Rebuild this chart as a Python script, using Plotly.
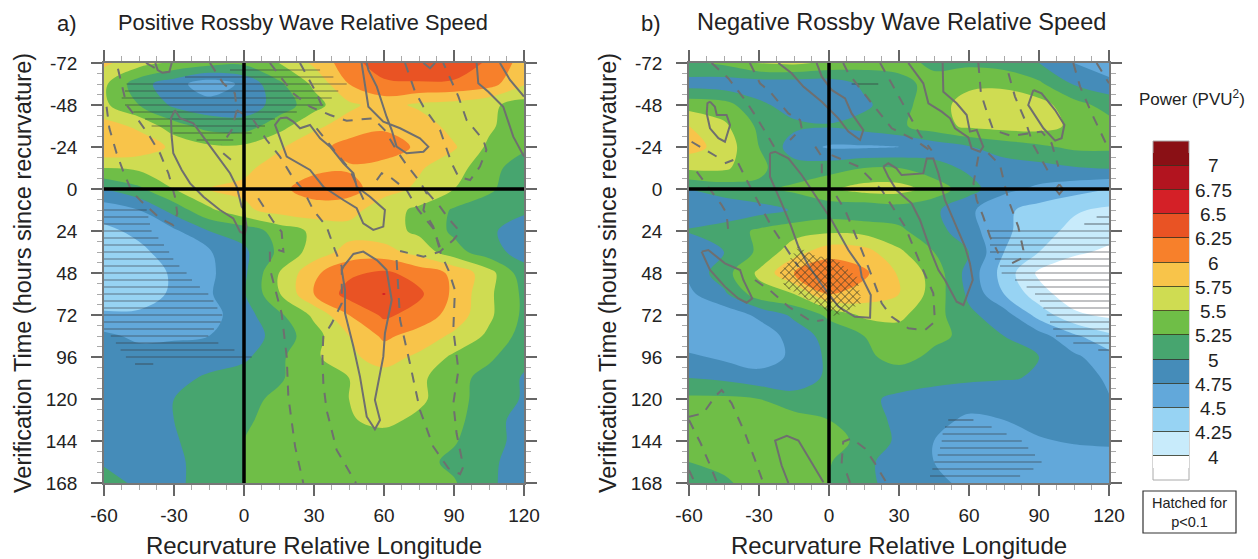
import numpy as np
import plotly.graph_objects as go

W, H = 1258, 559
lon = [-60, -45, -30, -15, 0, 15, 30, 45, 60, 75, 90, 105, 120]
hours = [-72, -60, -48, -36, -24, -12, 0, 12, 24, 36, 48, 60, 72, 84, 96, 108, 120, 132, 144, 156, 168]
levels = [4, 4.25, 4.5, 4.75, 5, 5.25, 5.5, 5.75, 6, 6.25, 6.5, 6.75, 7]
level_labels = ["4", "4.25", "4.5", "4.75", "5", "5.25", "5.5", "5.75", "6", "6.25", "6.5", "6.75", "7"]
band_colors = ["#ffffff", "#c8ebfb", "#97d3f3", "#62a8da", "#458cb9", "#47a56f", "#6fbe47",
               "#cfdc52", "#f8c44a", "#f7802b", "#e95324", "#d42027", "#b2141f", "#8a1015"]
x_ticks = [-60, -30, 0, 30, 60, 90, 120]
y_ticks = [-72, -48, -24, 0, 24, 48, 72, 96, 120, 144, 168]

power_a = [
 [5.8, 5.6, 5.45, 5.35, 5.3, 5.5, 5.8, 6.15, 6.4, 6.45, 6.45, 6.2, 5.9],
 [5.55, 5.1, 4.85, 4.6, 4.8, 5.2, 5.55, 6.0, 6.2, 6.22, 6.2, 6.1, 5.77],
 [5.55, 5.25, 4.95, 4.85, 4.85, 5.1, 5.4, 5.7, 5.85, 5.7, 5.65, 5.55, 5.4],
 [5.85, 5.7, 5.35, 5.15, 5.12, 5.4, 5.7, 5.85, 5.95, 5.9, 5.65, 5.55, 5.3],
 [6.0, 5.9, 5.7, 5.55, 5.55, 5.72, 5.9, 6.1, 6.15, 5.95, 5.78, 5.45, 5.3],
 [5.5, 5.55, 5.6, 5.6, 5.7, 5.85, 5.95, 5.97, 5.9, 5.78, 5.6, 5.35, 5.1],
 [5.0, 5.2, 5.5, 5.75, 5.8, 5.95, 6.1, 6.1, 5.85, 5.7, 5.5, 5.3, 5.05],
 [4.6, 4.75, 5.1, 5.45, 5.7, 5.85, 5.9, 5.85, 5.6, 5.45, 5.22, 5.1, 5.05],
 [4.45, 4.55, 4.7, 5.0, 5.1, 5.35, 5.55, 5.65, 5.6, 5.45, 5.2, 5.05, 4.85],
 [4.3, 4.45, 4.6, 4.72, 4.95, 5.3, 5.6, 5.85, 5.85, 5.65, 5.35, 5.1, 4.9],
 [4.3, 4.3, 4.55, 4.7, 4.95, 5.5, 5.95, 6.2, 6.3, 6.15, 5.95, 5.6, 5.1],
 [4.3, 4.35, 4.55, 4.72, 4.98, 5.48, 6.0, 6.35, 6.51, 6.3, 5.95, 5.55, 5.2],
 [4.55, 4.55, 4.55, 4.65, 4.9, 5.2, 5.55, 6.0, 6.3, 6.15, 5.9, 5.55, 5.2],
 [4.8, 4.7, 4.72, 4.75, 4.85, 5.1, 5.4, 5.75, 6.05, 5.9, 5.7, 5.45, 5.15],
 [4.85, 4.85, 4.85, 4.85, 4.95, 5.2, 5.45, 5.7, 5.85, 5.7, 5.45, 5.3, 5.05],
 [4.85, 4.85, 4.9, 5.05, 5.12, 5.22, 5.4, 5.5, 5.65, 5.55, 5.35, 5.15, 4.98],
 [4.85, 4.85, 5.0, 5.12, 5.18, 5.3, 5.4, 5.5, 5.62, 5.55, 5.35, 5.12, 4.98],
 [4.85, 4.85, 5.0, 5.1, 5.22, 5.32, 5.4, 5.48, 5.56, 5.45, 5.32, 5.1, 4.9],
 [4.9, 4.85, 4.98, 5.1, 5.25, 5.35, 5.4, 5.42, 5.4, 5.35, 5.27, 5.1, 4.9],
 [4.97, 4.88, 4.95, 5.1, 5.25, 5.33, 5.38, 5.38, 5.38, 5.32, 5.2, 5.05, 4.88],
 [5.1, 4.95, 4.95, 5.1, 5.25, 5.32, 5.35, 5.37, 5.37, 5.35, 5.27, 5.05, 4.85],
]
power_b = [
 [5.2, 5.3, 5.52, 5.55, 5.45, 5.35, 5.3, 5.22, 5.2, 5.15, 5.0, 4.75, 4.55],
 [4.9, 4.85, 4.85, 4.85, 4.85, 5.05, 5.2, 5.3, 5.45, 5.45, 5.3, 4.98, 4.85],
 [5.4, 5.35, 5.05, 4.9, 4.85, 4.95, 5.15, 5.4, 5.6, 5.65, 5.6, 5.35, 5.15],
 [5.75, 5.55, 5.2, 5.05, 5.02, 5.1, 5.2, 5.4, 5.55, 5.6, 5.6, 5.45, 5.35],
 [5.85, 5.65, 5.25, 4.88, 4.72, 4.72, 4.75, 4.85, 4.98, 5.1, 5.2, 5.3, 5.3],
 [5.55, 5.55, 5.3, 5.1, 5.15, 5.25, 5.25, 5.1, 4.95, 4.9, 4.92, 4.98, 5.02],
 [5.0, 5.1, 5.2, 5.3, 5.45, 5.6, 5.6, 5.4, 5.1, 4.82, 4.7, 4.6, 4.5],
 [4.85, 4.85, 4.9, 5.02, 5.1, 5.05, 5.12, 5.05, 4.8, 4.55, 4.4, 4.28, 4.2],
 [5.02, 5.1, 5.3, 5.4, 5.45, 5.42, 5.3, 5.1, 4.85, 4.55, 4.35, 4.18, 4.1],
 [4.8, 5.0, 5.3, 5.65, 5.9, 5.85, 5.55, 5.25, 5.0, 4.5, 4.25, 4.05, 3.95],
 [4.8, 5.15, 5.55, 6.0, 6.2, 6.05, 5.72, 5.4, 4.9, 4.4, 3.95, 3.8, 3.8],
 [4.7, 4.95, 5.4, 5.5, 6.0, 5.9, 5.75, 5.4, 4.95, 4.5, 4.1, 3.85, 3.85],
 [4.55, 4.6, 4.8, 5.05, 5.3, 5.55, 5.55, 5.35, 5.05, 4.87, 4.4, 4.05, 3.95],
 [4.55, 4.55, 4.6, 4.85, 5.1, 5.25, 5.4, 5.3, 5.2, 5.0, 4.85, 4.55, 4.3],
 [4.8, 4.7, 4.62, 4.8, 5.05, 5.2, 5.33, 5.2, 5.1, 5.05, 5.0, 4.8, 4.6],
 [5.0, 4.95, 4.85, 4.85, 5.05, 5.12, 5.12, 5.1, 5.05, 5.02, 4.98, 4.85, 4.72],
 [5.3, 5.3, 5.25, 5.1, 5.1, 5.05, 4.95, 4.85, 4.82, 4.82, 4.82, 4.82, 4.76],
 [5.4, 5.35, 5.4, 5.35, 5.25, 5.1, 4.95, 4.8, 4.72, 4.75, 4.85, 4.85, 4.85],
 [5.4, 5.4, 5.42, 5.4, 5.35, 5.18, 4.95, 4.75, 4.65, 4.6, 4.72, 4.78, 4.8],
 [5.25, 5.3, 5.35, 5.35, 5.27, 5.05, 4.9, 4.75, 4.6, 4.55, 4.55, 4.58, 4.62],
 [5.1, 5.22, 5.33, 5.35, 5.25, 5.05, 4.92, 4.8, 4.7, 4.6, 4.58, 4.58, 4.6],
]

solid_a = [
 ([-38, -37, -35, -32, -31], [-72, -68, -66.5, -67, -72]),
 ([-29.6, -31.3, -31, -30.3, -26.7, -23.1, -17.4, -10.3, -4.6, -1.7, 0.4, 1.1, 0, -1, -3.1, -6, -11.7, -17.4, -21.7, -27.4, -29.6],
  [-45.1, -40.4, -29.9, -20.4, -10.9, -3.2, 4.4, 12, 16.8, 24.4, 25.7, 21.5, 12, 10.1, -1.3, -9, -19.4, -29.9, -37.5, -40.4, -45.1]),
 ([15.4, 18.3, 21.1, 24, 28.3, 32.6, 36.9, 42.6, 46.9, 48.3, 54, 60.4, 59.7, 55.4, 51.1, 48.3, 42.6, 34, 28.3, 18.3, 14.7, 13.3, 15.4],
  [-40.4, -40.8, -38.5, -34.7, -36.6, -29, -24.2, -14.7, -9, -1.3, 4.4, 12, 21.5, 23.4, 19.6, 11, 6.3, -1.3, -10.9, -18.5, -31.8, -36.6, -40.4]),
 ([50.4, 51.9, 53.3, 59.7, 66.9, 75.4, 79, 76.9, 69.7, 65.4, 63.3, 61.1, 56.9, 53.3, 52.6],
  [-72, -58.5, -47, -38.5, -34.7, -29, -24.2, -21.3, -20.4, -24.2, -33.7, -41.3, -58.5, -68, -72]),
 ([76.9, 79.7, 81.9], [-72, -69, -72]),
 ([99.7, 100.4, 104.7, 111.1, 115.4, 120], [-72, -60.4, -55.6, -47, -29.9, -18.5]),
 ([109.7, 114, 120], [-72, -62.3, -52.8]),
 ([42.6, 46.9, 51.1, 56.9, 60.4, 61.1, 63.3, 60.4, 59.7, 56.1, 58.3, 56.1, 52.6, 49.7, 46.9, 43.3, 43.3, 41.9, 42.6],
  [44.4, 37.1, 35.8, 40.6, 45.3, 46.3, 63.4, 82.5, 95.8, 120.6, 132, 137.3, 130.1, 107.2, 90.1, 71, 57.7, 46.3, 44.4]),
]
dashed_a = [
 ([-58.9, -57.7, -54.6, -51.7, -48.1, -43.9, -36, -30.3, -28.6, -29.6, -32.4, -36, -40.3, -45.3, -50.3, -53.1, -54.6],
  [-47, -34.7, -20.4, -9.9, 1.5, 7.2, 16.8, 20.6, 13.9, 4.4, -9, -20.4, -29.9, -39.4, -48, -64.2, -72]),
 ([-42, -38], [-72, -69]),
 ([-14.6, -8.9, -3.9, -3.1, -5.3, -9.6], [-72, -60.4, -54.7, -45.1, -33.7, -25.1]),
 ([-8.9, -4.6], [-20.4, -15.6]),
 ([11.1, 21.1, 28.3, 36.9, 44, 55.3, 60.3, 65.3, 69.7, 75.4, 78.3, 76.9, 81.1, 84],
  [-72, -54.7, -47, -42.3, -39, -40.4, -33.7, -22.3, -13.7, -4.2, 2.5, 12, 21.5, 34.9]),
 ([-3.1, 4, 9.7, 15.4, 21.1, 25.4, 29.7, 35.4, 39, 41.9, 41.9, 37.6, 34, 33.6, 34, 35.4, 39.7, 44, 48],
  [-45.1, -39.4, -28, -18.5, -6.1, 0.6, 12, 21.5, 34.9, 44.4, 65.3, 76.8, 84.4, 95.8, 111, 126.3, 149.1, 158.7, 168]),
 ([24, 31.1, 34.7], [-72, -54.7, -43.2]),
 ([31.1, 45.4, 52.6], [-34.7, -10.9, 10.1]),
 ([56.9, 59, 63.3, 69.7, 74.7, 81.1, 84.7], [-5.1, -9, -6.1, 0.6, 12, 22.5, 35.8]),
 ([69, 73.3, 76.9, 84, 89, 91.9, 96.9, 101.1, 103.9, 102.6, 95.4, 91.9, 85.4],
  [-72, -55.6, -47, -33.7, -14.7, -7, -5.1, -12.8, -22.3, -28, -39.4, -52.8, -72]),
 ([78.3, 84, 87.6, 92.6, 89.7, 84, 76.9, 66.9], [1.5, 10.1, 16.8, 24.4, 29.1, 35.8, 38.7, 35.4]),
 ([65.4, 66.9, 71.1, 75.4, 81.1, 87.6, 92.6, 94, 91.1, 89.7, 91.9, 89.7, 90.4, 87.6, 84],
  [40.6, 74.9, 99.6, 126.3, 147.2, 159.6, 162.9, 158.7, 139.6, 122.5, 103.4, 80.6, 57.7, 46.3, 35.8]),
 ([11.6, 16.1, 18.3, 19, 21.9, 25.4], [48.2, 71, 95.8, 118.7, 147.2, 168]),
 ([6.1, 12.6, 16.1, 16.9, 14.7], [5.3, 18.7, 24.4, 35.8, 34.9]),
 ([11.1, 11.1], [35.8, 42.5]),
]
solid_b = [
 ([-21.7, -16, -11, -3.1, 4, 8.3, 13.3, 14.7, 9.7, 6.9, 1.1, -3.1, -5.3],
  [-72, -66.1, -58.5, -49.9, -40.4, -32.8, -28, -33.7, -43.2, -51.8, -56.6, -64.2, -72]),
 ([-51, -48.9, -48.1, -43.9, -42.4, -44.6, -47.4, -51, -52.4, -52.1, -51],
  [-49.9, -47, -42.3, -42.3, -36.6, -27, -29, -34.7, -43.2, -49, -49.9]),
 ([34, 40.4, 42.6, 48.3, 51.9, 54, 59.7, 61.1, 64.7, 66.1, 63.3, 60.4, 59, 54.7, 49, 48.7],
  [-72, -60.4, -49, -44.2, -40.4, -34.7, -29.5, -23.2, -21.3, -24.2, -33.7, -32.8, -42.3, -49, -55.6, -72]),
 ([87.6, 91.1, 96.9, 100.9, 99.7, 96.9, 91.9, 85.4, 87.6],
  [-56.6, -54.7, -45.1, -36.6, -29, -27.6, -34.7, -48, -56.6]),
 ([98.7, 100.4, 98.7, 97.1, 98.7], [-2.7, 0.2, 3, 0.2, -2.7]),
 ([-25.3, -25.3, -20.3, -16.7, -13.1, -8.9, -4.6, -0.3, 4, 11.1, 17.6, 17.9, 14, 13.3, 8.3, 1.1, -4.6, -11.7, -17.4, -23.1, -25.3],
  [-20.4, -7, 8.2, 19.6, 33, 43.4, 52, 59.6, 67.2, 73, 73.5, 60.6, 50.1, 44.4, 34.9, 17.7, 6.3, -8, -17.5, -21.3, -20.4]),
 ([23.3, 25.4, 28.9, 31.1, 40.4, 41.9, 44.7, 46.9, 49.7, 53.3, 58.3, 60.4, 61.6, 57.6, 54.7, 49.7, 46.9, 44, 39, 35.4, 28.9, 25.4, 23.3],
  [-12.8, -14.7, -11.8, -8, -8.9, -17.5, -17.5, -8.9, 6.3, 17.7, 33, 42.5, 52, 66.3, 64.4, 52, 46.3, 36.8, 17.7, 8.2, 0.6, -7, -12.8]),
 ([-54.6, -51.7, -44.6, -38.1, -36.7, -32.9, -35.3, -38.9, -44.6, -51, -54.6],
  [35.8, 34.9, 42.5, 46.3, 52, 62.5, 65, 62.5, 55.8, 46.3, 35.8]),
 ([-17.4, -20.3, -23.1, -18.1, -13.1, -6.7, -2.4], [168, 158, 143.7, 141, 143.7, 158, 167.6]),
]
dashed_b = [
 ([-50.3, -43.1, -36, -31.7, -27.4, -23.1], [-72, -63.2, -50.9, -42.3, -32.8, -23.2]),
 ([-33.9, -29.6, -25.3, -17.4, -12.4, -11.7, -16.7], [-72, -60.4, -55.6, -43.2, -39.4, -34.7, -28]),
 ([6.1, 8.3, 18.3, 26.9, 36.9, 44], [-72, -66.1, -49, -34.7, -28, -21.3]),
 ([21.9, 26.9, 34, 39, 44], [-72, -60.4, -43.2, -30.9, -22]),
 ([-58.9, -48.1], [-27, -18.5]),
 ([-44.6, -41], [-14.7, -16.6]),
 ([-56.7, -51, -46, -43.9, -43.1], [-9.9, 0.6, 9.1, 13.9, 25.3]),
 ([-38.9, -33.1, -24.6, -18.9, -13.1], [-14.7, 0.6, 21.5, 33, 44.4]),
 ([-5.9, -3.1, -3.1], [-24.2, -18.5, -9]),
 ([1.1, 12.6, 22.6, 32.6, 39.7, 44.7, 45.4, 41.1, 34, 26.9, 22.6, 19, 14, 6.9, 1.1],
  [-19.4, -12.8, 0.6, 21.5, 44.4, 59.6, 75.8, 80.6, 79.6, 73, 65.3, 52, 34.9, 12, -0.4]),
 ([64, 65.1, 67.6, 70.4, 78.3, 85.4, 91.1, 95.4, 98.3], [-72, -54.7, -44.2, -33.7, -30.3, -31.8, -32.8, -26.1, -12.8]),
 ([76.9, 79.7, 84, 87.6, 94], [-66.1, -52.8, -39.4, -25.1, -9.9]),
 ([104.7, 107.6, 112.6, 119.7], [-72, -58.5, -43.2, -23.2]),
 ([114.7, 120], [-72, -60.4]),
 ([64, 61.9, 63.3, 66.1, 69, 72.6], [-18.5, -3.2, 6.3, 15.8, 27.2, 36.8]),
 ([68.3, 73.3, 76.9, 81.1, 83.3, 82.6, 76.9], [-20.4, -13.7, 6.3, 21.5, 34.9, 39.6, 43.4]),
 ([-60, -53.9, -48.9, -46, -41.7, -36, -31.7, -28.1], [130.1, 128.2, 118.7, 114.9, 122.5, 139.6, 154.8, 168.2]),
 ([-60, -55, -50.7, -47.9], [132, 145.3, 158.7, 168]),
 ([-60, -57.4], [160.6, 168]),
 ([5.4, 6.1, 9.7, 15.4, 19.7, 24.7], [156.8, 144.4, 142.5, 148.2, 156.8, 168]),
 ([7.6, 9], [162.5, 168]),
 ([-31.7, -24.6, -17.4, -7.4, -2.4], [52, 58.7, 67.2, 75.8, 74.9]),
]

hatch_a_h = [-68, -64, -60, -56, -52, -48, -44, -40, -36, -32, -28,
             12, 16, 20, 24, 28, 32, 36, 40, 44, 48, 52, 56, 60, 64, 68, 72, 76, 80, 84, 88, 92, 96, 100]
hatch_a_x0 = [-6, -25.3, -50.3, -51, -52.4, -51, -47.4, -42.4, -39.6, -30.3, -20.3,
              -60, -60, -60, -60, -60, -60, -60, -60, -60, -60, -60, -60, -60, -60, -60, -60, -60, -60, -57.1, -54.9, -52.9, -50.6, -46.7]
hatch_a_x1 = [32.6, 38.3, 44, 40.4, 37.6, 34, 22.6, 13.3, 9, 3.3, -4.6,
              -41.7, -41, -40.3, -39.6, -36.7, -34.3, -32.1, -30.3, -27.7, -24.6, -22.3, -18.9, -15.3, -13.1, -11.4, -9.3, -10, -12.9, -15.3, -11, -4.1, 3.3, -38.9]
hatch_b_h = [-60, 16, 20, 24, 28, 32, 36, 40, 44, 48, 52, 56, 60, 64, 68, 72, 76, 80, 84, 88, 92,
             132, 136, 140, 144, 148, 152, 156, 160, 164]
hatch_b_x0 = [9.7, 114.7, 109.4, 68.3, 69, 69, 69, 71.1, 73.3, 74, 79.7, 84.7, 88.3, 90.4, 91.9, 93.3, 94.7, 96.1, 97.3, 104.7, 115.4,
              51.1, 49.7, 48.7, 48.3, 47.6, 46.6, 45.1, 44.3, 43.3]
hatch_b_x1 = [21.1, 120, 120, 120, 120, 120, 120, 120, 120, 120, 120, 120, 120, 120, 120, 120, 120, 120, 120, 120, 120,
              61.9, 69.7, 76.1, 82.6, 85.4, 88.3, 91.1, 87.6, 81.9]
cross_lon = [-21, -13.1, -6.7, 3.3, 11.9, 14, 2.6, -2.4, -18.9]
cross_hour = [48.2, 33, 37.7, 40.6, 50.1, 65.3, 72.9, 68.2, 55.8]

PX_X, PX_Y = 420 / 180, 420 / 240
A_L, B_L, R, T, B = 104, 689, 420, 63, 483
BAR_TOP, BAR_BOTTOM, BAR_STEP = 141, 480, 24.2


def joined(lines):
    xs, ys = [], []
    for lx, ly in lines:
        xs += list(lx) + [None]
        ys += list(ly) + [None]
    return xs, ys


def hatch(h, x0, x1):
    return joined([([a, b], [y, y]) for y, a, b in zip(h, x0, x1)])


def inside(px, py, poly_x, poly_y):
    c = np.zeros_like(px, dtype=bool)
    n = len(poly_x)
    for i in range(n):
        x1, y1, x2, y2 = poly_x[i], poly_y[i], poly_x[(i + 1) % n], poly_y[(i + 1) % n]
        if y1 == y2:
            continue
        m = ((y1 > py) != (y2 > py)) & (px < (x2 - x1) * (py - y1) / (y2 - y1) + x1)
        c ^= m
    return c


def cross_hatch(poly_x, poly_y, step_deg=8 / PX_X):
    xs, ys = [], []
    slope = PX_X / PX_Y
    t = np.linspace(-60, 60, 1500)
    for sign in (1, -1):
        for c in np.arange(-60, 60, step_deg):
            lx = c + t
            ly = 50 + sign * slope * t
            m = inside(lx, ly, poly_x, poly_y)
            if m.any():
                idx = np.where(m)[0]
                for part in np.split(idx, np.where(np.diff(idx) > 1)[0] + 1):
                    xs += [float(lx[part[0]]), float(lx[part[-1]]), None]
                    ys += [float(ly[part[0]]), float(ly[part[-1]]), None]
    return xs, ys


colorscale = [[i / 13, c] for i, c in enumerate(band_colors)]
fig = go.Figure()


def panel(z, solid, dashed, hatches, xa, ya, bar):
    cbar = dict(
        thicknessmode="pixels", thickness=36, lenmode="pixels", len=13 * BAR_STEP,
        x=1153 / W, xanchor="left", xpad=0, y=1 - (BAR_TOP + BAR_STEP / 2) / H, yanchor="top", ypad=0,
        tickmode="array", tickvals=levels, showticklabels=False,
        ticks="inside", ticklen=36, tickwidth=1, tickcolor="rgba(50,50,30,0.8)",
        outlinecolor="rgba(0,0,0,0)", outlinewidth=0, borderwidth=0)
    fig.add_trace(go.Contour(
        x=lon, y=hours, z=z, xaxis=xa, yaxis=ya, autocontour=False,
        contours=dict(start=4, end=7, size=0.25, coloring="fill", showlines=False),
        line=dict(width=0), colorscale=colorscale, showscale=bar,
        colorbar=cbar if bar else None, hoverinfo="skip"))
    hx, hy = hatches
    fig.add_trace(go.Scatter(x=hx, y=hy, xaxis=xa, yaxis=ya, mode="lines", showlegend=False,
                             line=dict(color="rgba(55,60,65,0.62)", width=1.2), hoverinfo="skip"))
    dx, dy = joined(dashed)
    fig.add_trace(go.Scatter(x=dx, y=dy, xaxis=xa, yaxis=ya, mode="lines", showlegend=False,
                             line=dict(color="#6f6f6f", width=2, dash="10px,9px"), hoverinfo="skip"))
    sx, sy = joined(solid)
    fig.add_trace(go.Scatter(x=sx, y=sy, xaxis=xa, yaxis=ya, mode="lines", showlegend=False,
                             line=dict(color="#6f6f6f", width=2), hoverinfo="skip"))


panel(power_a, solid_a, dashed_a, hatch(hatch_a_h, hatch_a_x0, hatch_a_x1), "x", "y", True)
panel(power_b, solid_b, dashed_b, hatch(hatch_b_h, hatch_b_x0, hatch_b_x1), "x2", "y2", False)
cx, cy = cross_hatch(cross_lon, cross_hour)
fig.add_trace(go.Scatter(x=cx, y=cy, xaxis="x2", yaxis="y2", mode="lines", showlegend=False,
                         line=dict(color="rgba(60,60,40,0.75)", width=1), hoverinfo="skip"))
for xa, ya in (("x", "y"), ("x2", "y2")):
    fig.add_trace(go.Scatter(x=[-60, 120, None, 0, 0], y=[0, 0, None, -72, 168], xaxis=xa, yaxis=ya,
                             mode="lines", showlegend=False, line=dict(color="#000000", width=3.5), hoverinfo="skip"))

FONT = "Liberation Sans, Arial, sans-serif"
axis_common = dict(
    showgrid=False, zeroline=False, showline=True, linecolor="#777777", linewidth=1.5,
    mirror="ticks", ticks="outside", ticklen=11, tickwidth=1.5, tickcolor="#666666", automargin=False,
    tickfont=dict(family=FONT, size=19, color="#222222"))
xaxis_opts = dict(axis_common, range=[-60, 120], tickmode="array", tickvals=x_ticks,
                  ticktext=[str(v) for v in x_ticks], ticklabelstandoff=3,
                  minor=dict(ticks="outside", dtick=7.5, tick0=-60, ticklen=5, tickwidth=1, tickcolor="#aaaaaa"),
                  title=dict(text="Recurvature Relative Longitude", font=dict(family=FONT, size=24, color="#222222"), standoff=19))
yaxis_opts = dict(axis_common, range=[168, -72], tickmode="array", tickvals=y_ticks,
                  ticktext=[str(v) for v in y_ticks], ticklabelstandoff=10,
                  minor=dict(ticks="outside", dtick=6, tick0=-72, ticklen=5, tickwidth=1, tickcolor="#aaaaaa"),
                  title=dict(text="Verification Time (hours since recurvature)", font=dict(family=FONT, size=23.5, color="#222222"), standoff=8))


def txt(x, y, s, size, anchor="center", **kw):
    return dict(xref="paper", yref="paper", x=x / W, y=1 - y / H, text=s, showarrow=False,
                xanchor=anchor, yanchor="middle", font=dict(family=FONT, size=size, color="#222222"), **kw)


annotations = [
    txt(55, 23, "a)", 22, "left"),
    txt(116, 22, "Positive Rossby Wave Relative Speed", 21.8, "left"),
    txt(639, 23, "b)", 22, "left"),
    txt(695, 22, "Negative Rossby Wave Relative Speed", 23.5, "left"),
    txt(1192, 98, "Power (PVU<sup>2</sup>)", 17),
    txt(1189.5, 512, "Hatched for<br>p&lt;0.1", 14.5),
]
for i, label in enumerate(level_labels):
    annotations.append(txt(1213, 457 - i * 24.25, label, 19))

bar_y_top = 1 - BAR_TOP / H
bar_y_bottom = 1 - BAR_BOTTOM / H
shapes = [
    dict(type="rect", xref="paper", yref="paper", x0=1143 / W, x1=1236 / W,
         y0=1 - 533 / H, y1=1 - 491 / H, line=dict(color="#333333", width=1.2)),
    dict(type="rect", xref="paper", yref="paper", x0=1153 / W, x1=1189 / W,
         y0=1 - (BAR_TOP + BAR_STEP) / H, y1=bar_y_top, fillcolor=band_colors[-1], line=dict(width=0)),
    dict(type="rect", xref="paper", yref="paper", x0=1153 / W, x1=1189 / W,
         y0=bar_y_bottom, y1=1 - (BAR_BOTTOM - BAR_STEP) / H, fillcolor=band_colors[0], line=dict(width=0)),
    dict(type="rect", xref="paper", yref="paper", x0=1153 / W, x1=1189 / W,
         y0=bar_y_bottom, y1=bar_y_top, line=dict(color="#aaaaaa", width=1)),
    dict(type="line", xref="paper", yref="paper", x0=1153 / W, x1=1189 / W,
         y0=1 - (BAR_TOP + BAR_STEP) / H, y1=1 - (BAR_TOP + BAR_STEP) / H, line=dict(color="rgba(50,50,30,0.8)", width=1)),
    dict(type="line", xref="paper", yref="paper", x0=1153 / W, x1=1189 / W,
         y0=1 - (BAR_BOTTOM - BAR_STEP) / H, y1=1 - (BAR_BOTTOM - BAR_STEP) / H, line=dict(color="rgba(50,50,30,0.5)", width=1)),
]

fig.update_layout(
    width=W, height=H, autosize=False, margin=dict(l=0, r=0, t=0, b=0, autoexpand=False),
    paper_bgcolor="#ffffff", plot_bgcolor="#ffffff", showlegend=False,
    xaxis=dict(xaxis_opts, domain=[A_L / W, (A_L + R) / W], anchor="y"),
    yaxis=dict(yaxis_opts, domain=[1 - B / H, 1 - T / H], anchor="x"),
    xaxis2=dict(xaxis_opts, domain=[B_L / W, (B_L + R) / W], anchor="y2"),
    yaxis2=dict(yaxis_opts, domain=[1 - B / H, 1 - T / H], anchor="x2"),
    annotations=annotations,
    shapes=shapes,
)
fig.write_html("out.html", config=dict(displayModeBar=False),
               post_script="document.body.style.margin='0';document.body.style.overflow='hidden';")
